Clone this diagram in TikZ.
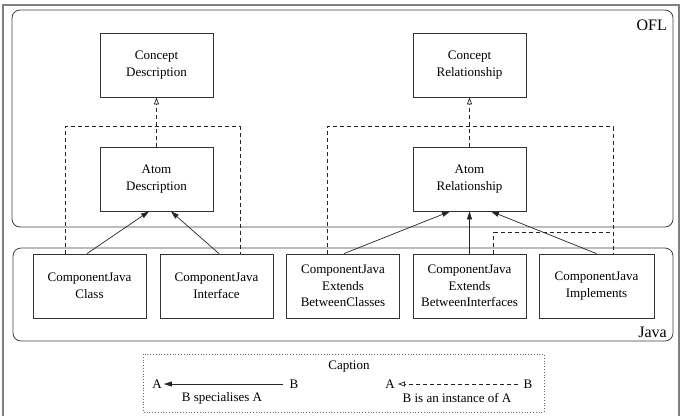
\documentclass[tikz,border=0pt]{standalone}
\usepackage{fontspec}
\setmainfont{Liberation Serif}
\usetikzlibrary{arrows.meta,calc}
\begin{document}
\begin{tikzpicture}[x=1pt,y=-1pt,
  box/.style={draw=black!80,line width=0.8pt,minimum width=113pt,minimum height=64pt,align=center,inner sep=0pt,font=\fontsize{13}{16.5}\selectfont},
  frame/.style={draw=black!75,line width=0.8pt,rounded corners=8pt},
  spec/.style={draw=black!85,line width=0.7pt,-{Triangle[length=8pt,width=5pt]}},
  inst/.style={draw=black!85,line width=0.7pt,dash pattern=on 4pt off 3pt},
  instarrow/.style={inst,-{Triangle[open,length=7pt,width=5pt]}},
  lbl/.style={font=\fontsize{13}{15}\selectfont,inner sep=0pt},
  biglbl/.style={font=\fontsize{16}{18}\selectfont,inner sep=0pt}]
\useasboundingbox (0,0) rectangle (682,416);
% outer frame
\draw[gray,line width=1.2pt] (3,416) -- (3,5) -- (679,5) -- (679,416);
% OFL and Java frames
\draw[frame] (12,10) rectangle (673,227);
\node[biglbl,anchor=base east] (ofl) at (667,30) {OFL};
\draw[frame] (13,248) rectangle (673,341);
\node[biglbl,anchor=base east] (java) at (667,337) {Java};
% nodes
\node[box] (cd) at (156.5,65) {Concept\\Description};
\node[box] (cr) at (469.5,65) {Concept\\Relationship};
\node[box] (ad) at (156.5,179) {Atom\\Description};
\node[box] (ar) at (469.5,179) {Atom\\Relationship};
\node[box] (j1) at (89.5,286) {ComponentJava\\Class};
\node[box] (j2) at (216.5,286) {ComponentJava\\Interface};
\node[box] (j3) at (343,286) {ComponentJava\\Extends\\BetweenClasses};
\node[box] (j4) at (469.5,286) {ComponentJava\\Extends\\BetweenInterfaces};
\node[box,minimum width=115pt] (j5) at (596.5,286) {ComponentJava\\Implements};
% instance-of arrows
\draw[instarrow] (ad.north) -- (cd.south);
\draw[instarrow] (ar.north) -- (cr.south);
% dashed groupings
\draw[inst] ($(j1.north)+(-24.5,0)$) -- ++(0,-127) -- ++(175,0) -- ($(j2.north)+(23.5,0)$);
\draw[inst] ($(j3.north)+(-16,0)$) -- ++(0,-127) -- ++(286,0) -- ($(j5.north)+(16.5,0)$);
\draw[inst] ($(j4.north)+(24,0)$) -- ++(0,-21) -- ++(119.5,0);
% specialisation arrows
\draw[spec] ($(j1.north)+(-2.5,0)$) -- ($(ad.south)+(-7.5,0)$);
\draw[spec] ($(j2.north)+(2.5,0)$) -- ($(ad.south)+(14.5,0)$);
\draw[spec] ($(j3.north)+(1,0)$) -- ($(ar.south)+(-19.5,0)$);
\draw[spec] (j4.north) -- (ar.south);
\draw[spec] ($(j5.north)+(0,0)$) -- ($(ar.south)+(21.5,0)$);
% caption
\draw[black!60,line width=0.8pt,dotted] (143,354) rectangle (544,412);
\node[lbl] (cap) at (349,367) {Caption};
\node[lbl] (a1) at (157,384) {A};
\node[lbl] (b1) at (294,384) {B};
\draw[spec] ($(b1.west)+(-6,0)$) -- ($(a1.east)+(2,0)$);
\node[lbl] (t1) at (222,398) {B specialises A};
\node[lbl] (a2) at (390,384) {A};
\node[lbl] (b2) at (528,384) {B};
\draw[instarrow] ($(b2.west)+(-5,0)$) -- ($(a2.east)+(3,0)$);
\node[lbl] (t2) at (457,398) {B is an instance of A};
\end{tikzpicture}
\end{document}
